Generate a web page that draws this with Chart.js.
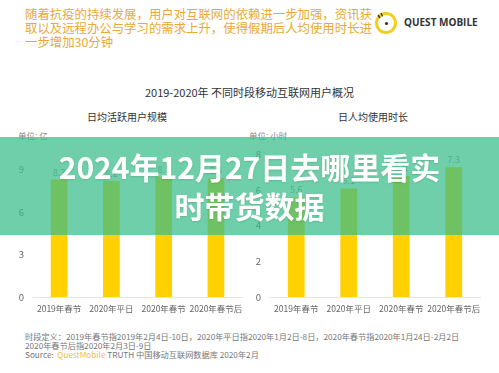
<!DOCTYPE html>
<html>
<head>
<meta charset="utf-8">
<script src="https://cdn.jsdelivr.net/npm/chart.js@4"></script>
<style>
body { margin: 0; background: #fff; }
#page { position: relative; width: 499px; height: 373px; overflow: hidden; background: #fff; font-family: "Noto Sans CJK SC", "Noto Sans", sans-serif; }
.abs { position: absolute; white-space: nowrap; }
#intro { left: 25px; top: 7px; color: #e8a93a; font-size: 12.4px; line-height: 14px; white-space: normal; width: 352px; }
#logoText { left: 404px; top: 15px; font-family: "Open Sans", sans-serif; font-weight: 700; font-size: 10px; color: #333; }
#title { left: 0; width: 499px; text-align: center; top: 84px; font-size: 11px; color: #333; }
.sub { top: 109px; font-size: 10px; color: #333; text-align: center; width: 160px; }
.unit { top: 129px; font-size: 8.5px; color: #888; }
#banner { left: 0; top: 137px; width: 499px; height: 98px; background: rgba(55,188,137,0.72); }
#bannerText { left: 0; top: 147px; width: 499px; text-align: center; color: #fff; font-weight: 700; font-size: 30px; line-height: 39px; white-space: normal; text-shadow: 0 1px 2px rgba(0,0,0,0.12); }
.foot { left: 25px; font-size: 8.2px; color: #777; line-height: 9px; }
canvas { position: absolute; }
</style>
</head>
<body>
<div id="page">
  <div class="abs" id="intro">随着抗疫的持续发展，用户对互联网的依赖进一步加强，资讯获取以及远程办公与学习的需求上升，使得假期后人均使用时长进一步增加30分钟</div>
  <svg class="abs" style="left:373px;top:10px" width="26" height="26" viewBox="0 0 26 26">
    <circle cx="13" cy="13" r="9.5" fill="none" stroke="#f2cf1f" stroke-width="3"/>
    <circle cx="13.5" cy="13.5" r="1.6" fill="#333"/>
    <path d="M5 5 L7 8 M8 3 L9.5 6.5" stroke="#333" stroke-width="1.4"/>
  </svg>
  <div class="abs" id="logoText">QUEST MOBILE</div>
  <div class="abs" id="title">2019-2020年 不同时段移动互联网用户概况</div>
  <div class="abs sub" style="left:47px">日均活跃用户规模</div>
  <div class="abs sub" style="left:293px">日人均使用时长</div>
  <div class="abs unit" style="left:18px">单位: 亿</div>
  <div class="abs unit" style="left:249px">单位: 小时</div>
  <canvas id="leftChart" style="left:0;top:155px"></canvas>
  <canvas id="rightChart" style="left:250px;top:140px"></canvas>
  <div class="abs" id="banner"></div>
  <div class="abs" id="bannerText">2024年12月27日去哪里看实<br>时带货数据</div>
  <div class="abs foot" style="top:332px">时段定义：2019年春节指2019年2月4日-10日，2020年平日指2020年1月2日-8日，2020年春节指2020年1月24日-2月2日</div>
  <div class="abs foot" style="top:341px">2020年春节后指2020年2月3日-9日</div>
  <div class="abs foot" style="top:350px">Source:&nbsp;&nbsp;<span style="color:#f0c040">QuestMobile</span> TRUTH 中国移动互联网数据库 2020年2月</div>
</div>
<script>
var periods = ['2019年春节', '2020年平日', '2020年春节', '2020年春节后'];
var dailyActiveUsers = [8.3, 8.2, 8.5, 8.4];   // 亿
var dailyUsageHours = [5.6, 6.1, 6.8, 7.3];    // 小时
var leftTicks = [0, 3, 6, 9];
var rightTicks = [0, 2, 4, 6, 8];

var cjk = '"Noto Sans CJK SC", "Noto Sans", sans-serif';

// draws the value above every bar
var valueLabels = {
    id: 'valueLabels',
    afterDatasetsDraw: function (chart) {
        var ctx = chart.ctx;
        var meta = chart.getDatasetMeta(0);
        var data = chart.data.datasets[0].data;
        ctx.save();
        ctx.fillStyle = '#8a8a8a';
        ctx.font = '9px ' + cjk;
        ctx.textAlign = 'center';
        ctx.textBaseline = 'bottom';
        meta.data.forEach(function (bar, i) {
            ctx.fillText(String(data[i]), bar.x, bar.y - 3);
        });
        ctx.restore();
    }
};

function makeChart(id, w, h, values, ticks, yWidth, pad) {
    var canvas = document.getElementById(id);
    canvas.width = w;
    canvas.height = h;
    canvas.style.width = w + 'px';
    canvas.style.height = h + 'px';
    return new Chart(canvas, {
        type: 'bar',
        data: {
            labels: periods,
            datasets: [{
                data: values,
                backgroundColor: '#ffd100',
                borderWidth: 0,
                categoryPercentage: 1,
                barPercentage: 0.32
            }]
        },
        options: {
            responsive: false,
            animation: false,
            devicePixelRatio: 1,
            layout: { padding: pad },
            plugins: { legend: { display: false }, tooltip: { enabled: false } },
            scales: {
                x: {
                    grid: { display: false, drawTicks: false },
                    border: { display: true, color: '#e4e4e4' },
                    ticks: { color: '#666', font: { size: 8.5, family: cjk }, padding: 7, maxRotation: 0, autoSkip: false },
                    afterFit: function (s) { s.height = 23; }
                },
                y: {
                    min: ticks[0],
                    max: ticks[ticks.length - 1],
                    afterBuildTicks: function (s) { s.ticks = ticks.map(function (v) { return { value: v }; }); },
                    grid: { display: false, drawTicks: false },
                    border: { display: false },
                    ticks: { color: '#666', font: { size: 9.5, family: cjk }, padding: 9 },
                    afterFit: function (s) { s.width = yWidth; }
                }
            }
        },
        plugins: [valueLabels]
    });
}

makeChart('leftChart', 250, 165, dailyActiveUsers, leftTicks, 33, { top: 9, right: 5, left: 0, bottom: 0 });
makeChart('rightChart', 249, 180, dailyUsageHours, rightTicks, 20, { top: 9, right: 19, left: 0, bottom: 0 });
</script>
</body>
</html>
